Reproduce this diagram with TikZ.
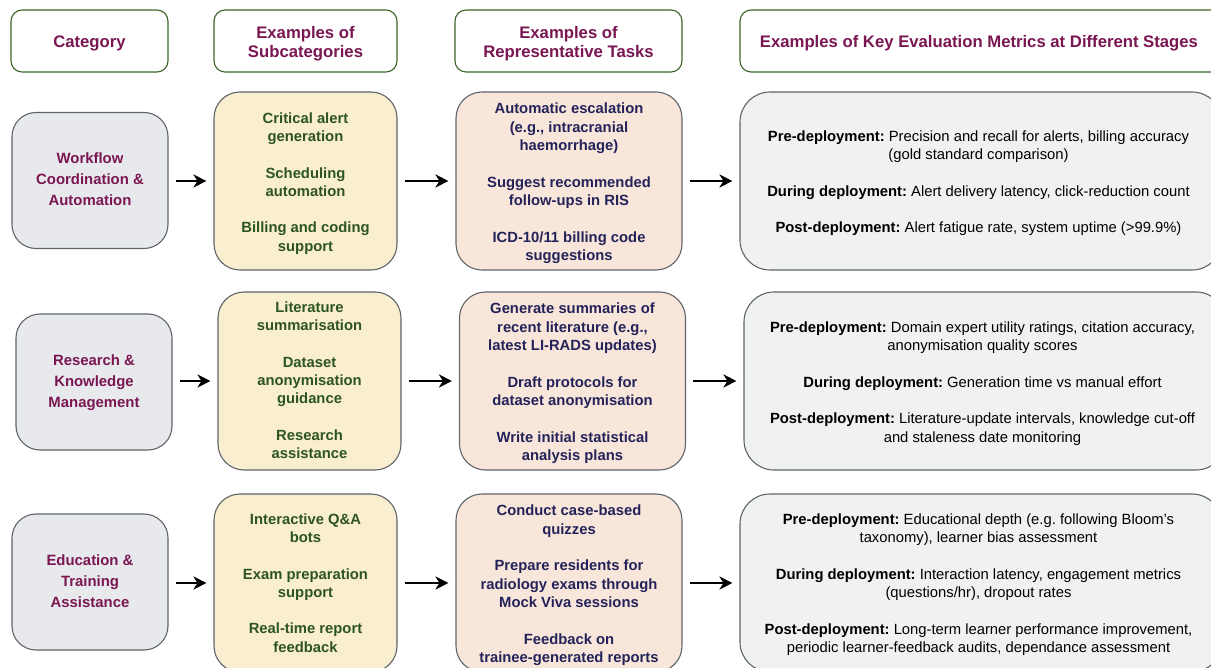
\documentclass[tikz,border=0pt]{standalone}
\usepackage{fontspec}
\setmainfont{Liberation Sans}
\usetikzlibrary{arrows.meta}
\frenchspacing
\definecolor{hdrtext}{RGB}{122,22,82}
\definecolor{hdrline}{RGB}{60,100,40}
\definecolor{subtext}{RGB}{45,85,30}
\definecolor{tasktext}{RGB}{35,35,90}
\definecolor{catfill}{RGB}{231,233,237}
\definecolor{boxline}{RGB}{95,100,105}
\definecolor{subfill}{RGB}{250,238,208}
\definecolor{taskfill}{RGB}{249,230,218}
\definecolor{metfill}{RGB}{240,242,241}
% text block: [horizontal offset]{lowering}{lines}
\newcommand{\txtblock}[3][0pt]{\hspace*{#1}\raisebox{-#2}[\height][\depth]{\begin{tabular}{@{}c@{}}#3\end{tabular}}}
\begin{document}
\begin{tikzpicture}[x=1pt,y=-1pt,
  hdr/.style={draw=hdrline, line width=1.1pt, rounded corners=11pt, fill=white,
    text=hdrtext, font=\bfseries\fontsize{16.7}{19}\selectfont,
    inner sep=0pt, minimum height=62pt},
  cat/.style={draw=boxline, line width=1.1pt, rounded corners=24pt, fill=catfill,
    text=hdrtext, font=\bfseries\fontsize{14.9}{21}\selectfont,
    inner sep=0pt, minimum width=156pt, minimum height=136pt},
  sub/.style={draw=boxline, line width=1.1pt, rounded corners=26pt, fill=subfill,
    text=subtext, font=\bfseries\fontsize{14.8}{18.3}\selectfont,
    inner sep=0pt, minimum width=183pt, minimum height=178pt},
  task/.style={draw=boxline, line width=1.1pt, rounded corners=26pt, fill=taskfill,
    text=tasktext, font=\bfseries\fontsize{14.8}{18.3}\selectfont,
    inner sep=0pt, minimum width=226pt, minimum height=178pt},
  met/.style={draw=boxline, line width=1.1pt, rounded corners=30pt, fill=metfill,
    text=black, font=\fontsize{14.8}{18.3}\selectfont,
    inner sep=0pt, minimum width=482pt, minimum height=178pt},
  arr/.style={line width=2.8pt, -{Stealth[length=13pt,width=13pt,inset=4pt]},
    shorten <=7pt, shorten >=7pt}
]
\useasboundingbox (0,0) rectangle (1211,668);
\clip (0,0) rectangle (1211,668);

% headers
\node[hdr, minimum width=157pt] (h1) at (89.5,41) {\txtblock{3pt}{Category}};
\node[hdr, minimum width=183pt] (h2) at (305.5,41) {\txtblock{3.5pt}{Examples of\\Subcategories}};
\node[hdr, minimum width=227pt] (h3) at (568.5,41) {\txtblock{3.5pt}{Examples of\\Representative Tasks}};
\node[hdr, minimum width=482pt] (h4) at (981,41) {\txtblock[-4pt]{3pt}{Examples of Key Evaluation Metrics at Different Stages}};

% row 1
\node[cat] (c1) at (90,180.5) {\txtblock{0pt}{Workflow\\Coordination \&\\Automation}};
\node[sub] (s1) at (305.5,181) {\txtblock{2.5pt}{Critical alert\\generation\\[18.3pt]Scheduling\\automation\\[18.3pt]Billing and coding\\support}};
\node[task] (t1) at (569,181) {\txtblock{2.5pt}{Automatic escalation\\(e.g., intracranial\\haemorrhage)\\[18.3pt]Suggest recommended\\follow-ups in RIS\\[18.3pt]ICD-10/11 billing code\\suggestions}};
\node[met] (m1) at (981,181) {\txtblock[-5pt]{2.5pt}{%
  \textbf{Pre-deployment:} Precision and recall for alerts, billing accuracy\\(gold standard comparison)\\[18.3pt]
  \textbf{During deployment:} Alert delivery latency, click-reduction count\\[18.3pt]
  \textbf{Post-deployment:} Alert fatigue rate, system uptime (>99.9\%)}};

% row 2
\node[cat] (c2) at (94,382) {\txtblock{0pt}{Research \&\\Knowledge\\Management}};
\node[sub] (s2) at (309.5,381) {\txtblock{1pt}{Literature\\summarisation\\[18.3pt]Dataset\\anonymisation\\guidance\\[18.3pt]Research\\assistance}};
\node[task] (t2) at (572.5,381) {\txtblock{2.5pt}{Generate summaries of\\recent literature (e.g.,\\latest LI-RADS updates)\\[18.3pt]Draft protocols for\\dataset anonymisation\\[18.3pt]Write initial statistical\\analysis plans}};
\node[met] (m2) at (985,381) {\txtblock[-5pt]{2.5pt}{%
  \textbf{Pre-deployment:} Domain expert utility ratings, citation accuracy,\\anonymisation quality scores\\[18.3pt]
  \textbf{During deployment:} Generation time vs manual effort\\[18.3pt]
  \textbf{Post-deployment:} Literature-update intervals, knowledge cut-off\\and staleness date monitoring}};

% row 3
\node[cat] (c3) at (90,582) {\txtblock{0pt}{Education \&\\Training\\Assistance}};
\node[sub] (s3) at (305.5,583) {\txtblock{1.5pt}{Interactive Q\&A\\bots\\[18.3pt]Exam preparation\\support\\[18.3pt]Real-time report\\feedback}};
\node[task] (t3) at (569,583) {\txtblock{2.5pt}{Conduct case-based\\quizzes\\[18.3pt]Prepare residents for\\radiology exams through\\Mock Viva sessions\\[18.3pt]Feedback on\\trainee-generated reports}};
\node[met] (m3) at (981,583) {\txtblock[-5pt]{2pt}{%
  \textbf{Pre-deployment:} Educational depth (e.g. following Bloom’s\\taxonomy), learner bias assessment\\[18.3pt]
  \textbf{During deployment:} Interaction latency, engagement metrics\\(questions/hr), dropout rates\\[18.3pt]
  \textbf{Post-deployment:} Long-term learner performance improvement,\\periodic learner-feedback audits, dependance assessment}};

% arrows
\foreach \a/\b in {c1/s1,s1/t1,t1/m1,c2/s2,s2/t2,t2/m2,c3/s3,s3/t3,t3/m3}{
  \draw[arr] (\a.east |- \b.center) -- (\b.west);
}
\end{tikzpicture}
\end{document}
